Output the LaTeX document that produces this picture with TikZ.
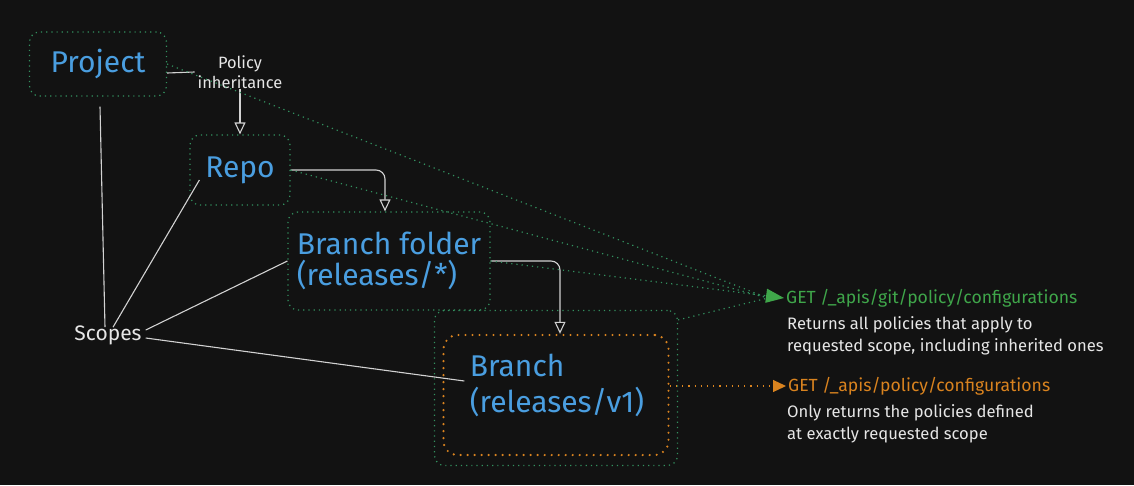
\documentclass[tikz,border=0pt]{standalone}
\usepackage{fontspec}
\setmainfont{Fira Sans}
\usetikzlibrary{arrows.meta}
\definecolor{bg}{HTML}{121212}
\definecolor{nodeblue}{HTML}{4A9EE0}
\definecolor{boxgreen}{HTML}{33915F}
\definecolor{apigreen}{HTML}{3FA64A}
\definecolor{apiorange}{HTML}{D9831F}
\definecolor{linegray}{HTML}{D2D2D2}
\definecolor{notewhite}{HTML}{E6E6E6}

\begin{document}
\begin{tikzpicture}[x=1pt,y=-1pt,
    scopebox/.style={draw=boxgreen, line width=1.2pt, dash pattern=on 1.2pt off 4pt, rounded corners=10pt,
        text=nodeblue, font=\fontsize{30}{31}\selectfont, align=left, inner sep=0pt},
    branchbox/.style={scopebox, draw=apiorange, line width=2.4pt, line cap=round, dash pattern=on 0pt off 7pt, rounded corners=14pt},
    link/.style={draw=linegray, line width=1.1pt},
    inherit/.style={link, rounded corners=9pt, -{Triangle[open, length=12pt, width=11pt]}},
    gitcall/.style={draw=boxgreen, line width=1.2pt, dash pattern=on 1.2pt off 4pt},
    localcall/.style={draw=apiorange, line width=1.2pt, dash pattern=on 1.2pt off 5pt},
    note/.style={text=notewhite, font=\fontsize{16.6}{22}\selectfont, align=left, inner sep=0pt}]

    \useasboundingbox[fill=bg] (0,0) rectangle (1134,485);

    % scope boxes
    \node[scopebox, minimum width=137pt, minimum height=64pt] (project) at (98,64) {Project};
    \node[scopebox, minimum width=100pt, minimum height=70pt] (repo) at (240,170) {Repo};
    \node[scopebox, minimum width=202pt, minimum height=98pt] (folder) at (389,261) {Branch folder\\(releases/*)};
    \node[scopebox, minimum width=243pt, minimum height=155pt] (branchouter) at (556,388) {};
    \node[branchbox, minimum width=225pt, minimum height=120pt] (branch) at (556,395) {};
    \node[scopebox, draw=none, font=\fontsize{30}{36}\selectfont] (branchtext) at (557,385) {Branch\\(releases/v1)};

    \node[note, align=center, font=\fontsize{16.4}{20}\selectfont] (policy) at (240,72) {Policy\\inheritance};
    \node[note, font=\fontsize{21}{22}\selectfont] (scopes) at (108,335) {Scopes};

    % inheritance
    \draw[link] ([yshift=-9pt]project.east) -- ([xshift=-3pt]policy.west);
    \draw[inherit] (policy.south) -- (repo.north);
    \draw[inherit] (repo.east) -| ([xshift=-4pt]folder.north);
    \draw[inherit] (folder.east) -| ([xshift=4pt]branch.north);

    % scopes
    \draw[link] ([xshift=-3pt,yshift=-2pt]scopes.north) -- ([xshift=2pt,yshift=-10pt]project.south);
    \draw[link] ([xshift=5pt,yshift=-2pt]scopes.north) -- ([xshift=10pt,yshift=-10pt]repo.west);
    \draw[link] ([xshift=4pt,yshift=5pt]scopes.east) -- (folder.west);
    \draw[link] ([xshift=4pt,yshift=-3pt]scopes.east) -- ([xshift=22pt,yshift=14pt]branch.west);

    % api calls
    \node[anchor=west, text=apigreen, font=\fontsize{17.6}{18}\selectfont, inner sep=0pt] (gitapi) at (786,298) {GET /\_apis/git/policy/configurations};
    \node[note, anchor=north west] (gitnote) at (787,316) {Returns all policies that apply to\\requested scope, including inherited ones};
    \node[anchor=west, text=apiorange, font=\fontsize{17.6}{18}\selectfont, inner sep=0pt] (localapi) at (788,386) {GET /\_apis/policy/configurations};
    \node[note, anchor=north west] (localnote) at (787,404) {Only returns the policies defined\\at exactly requested scope};

    \draw[gitcall] (project.east) -- ([xshift=-18pt]gitapi.west);
    \draw[gitcall] (repo.east) -- ([xshift=-18pt]gitapi.west);
    \draw[gitcall] ([yshift=-10pt]branchouter.north east) -- ([xshift=-18pt]gitapi.west);
    \draw[gitcall, -{Triangle[length=18pt, width=14pt, color=apigreen, fill=apigreen]}] (folder.east) -- ([xshift=-2pt]gitapi.west);
    \draw[localcall, -{Triangle[length=13pt, width=12pt, color=apiorange, fill=apiorange]}] ([yshift=9pt]branch.east) -- ([xshift=-2pt]localapi.west);
\end{tikzpicture}
\end{document}
